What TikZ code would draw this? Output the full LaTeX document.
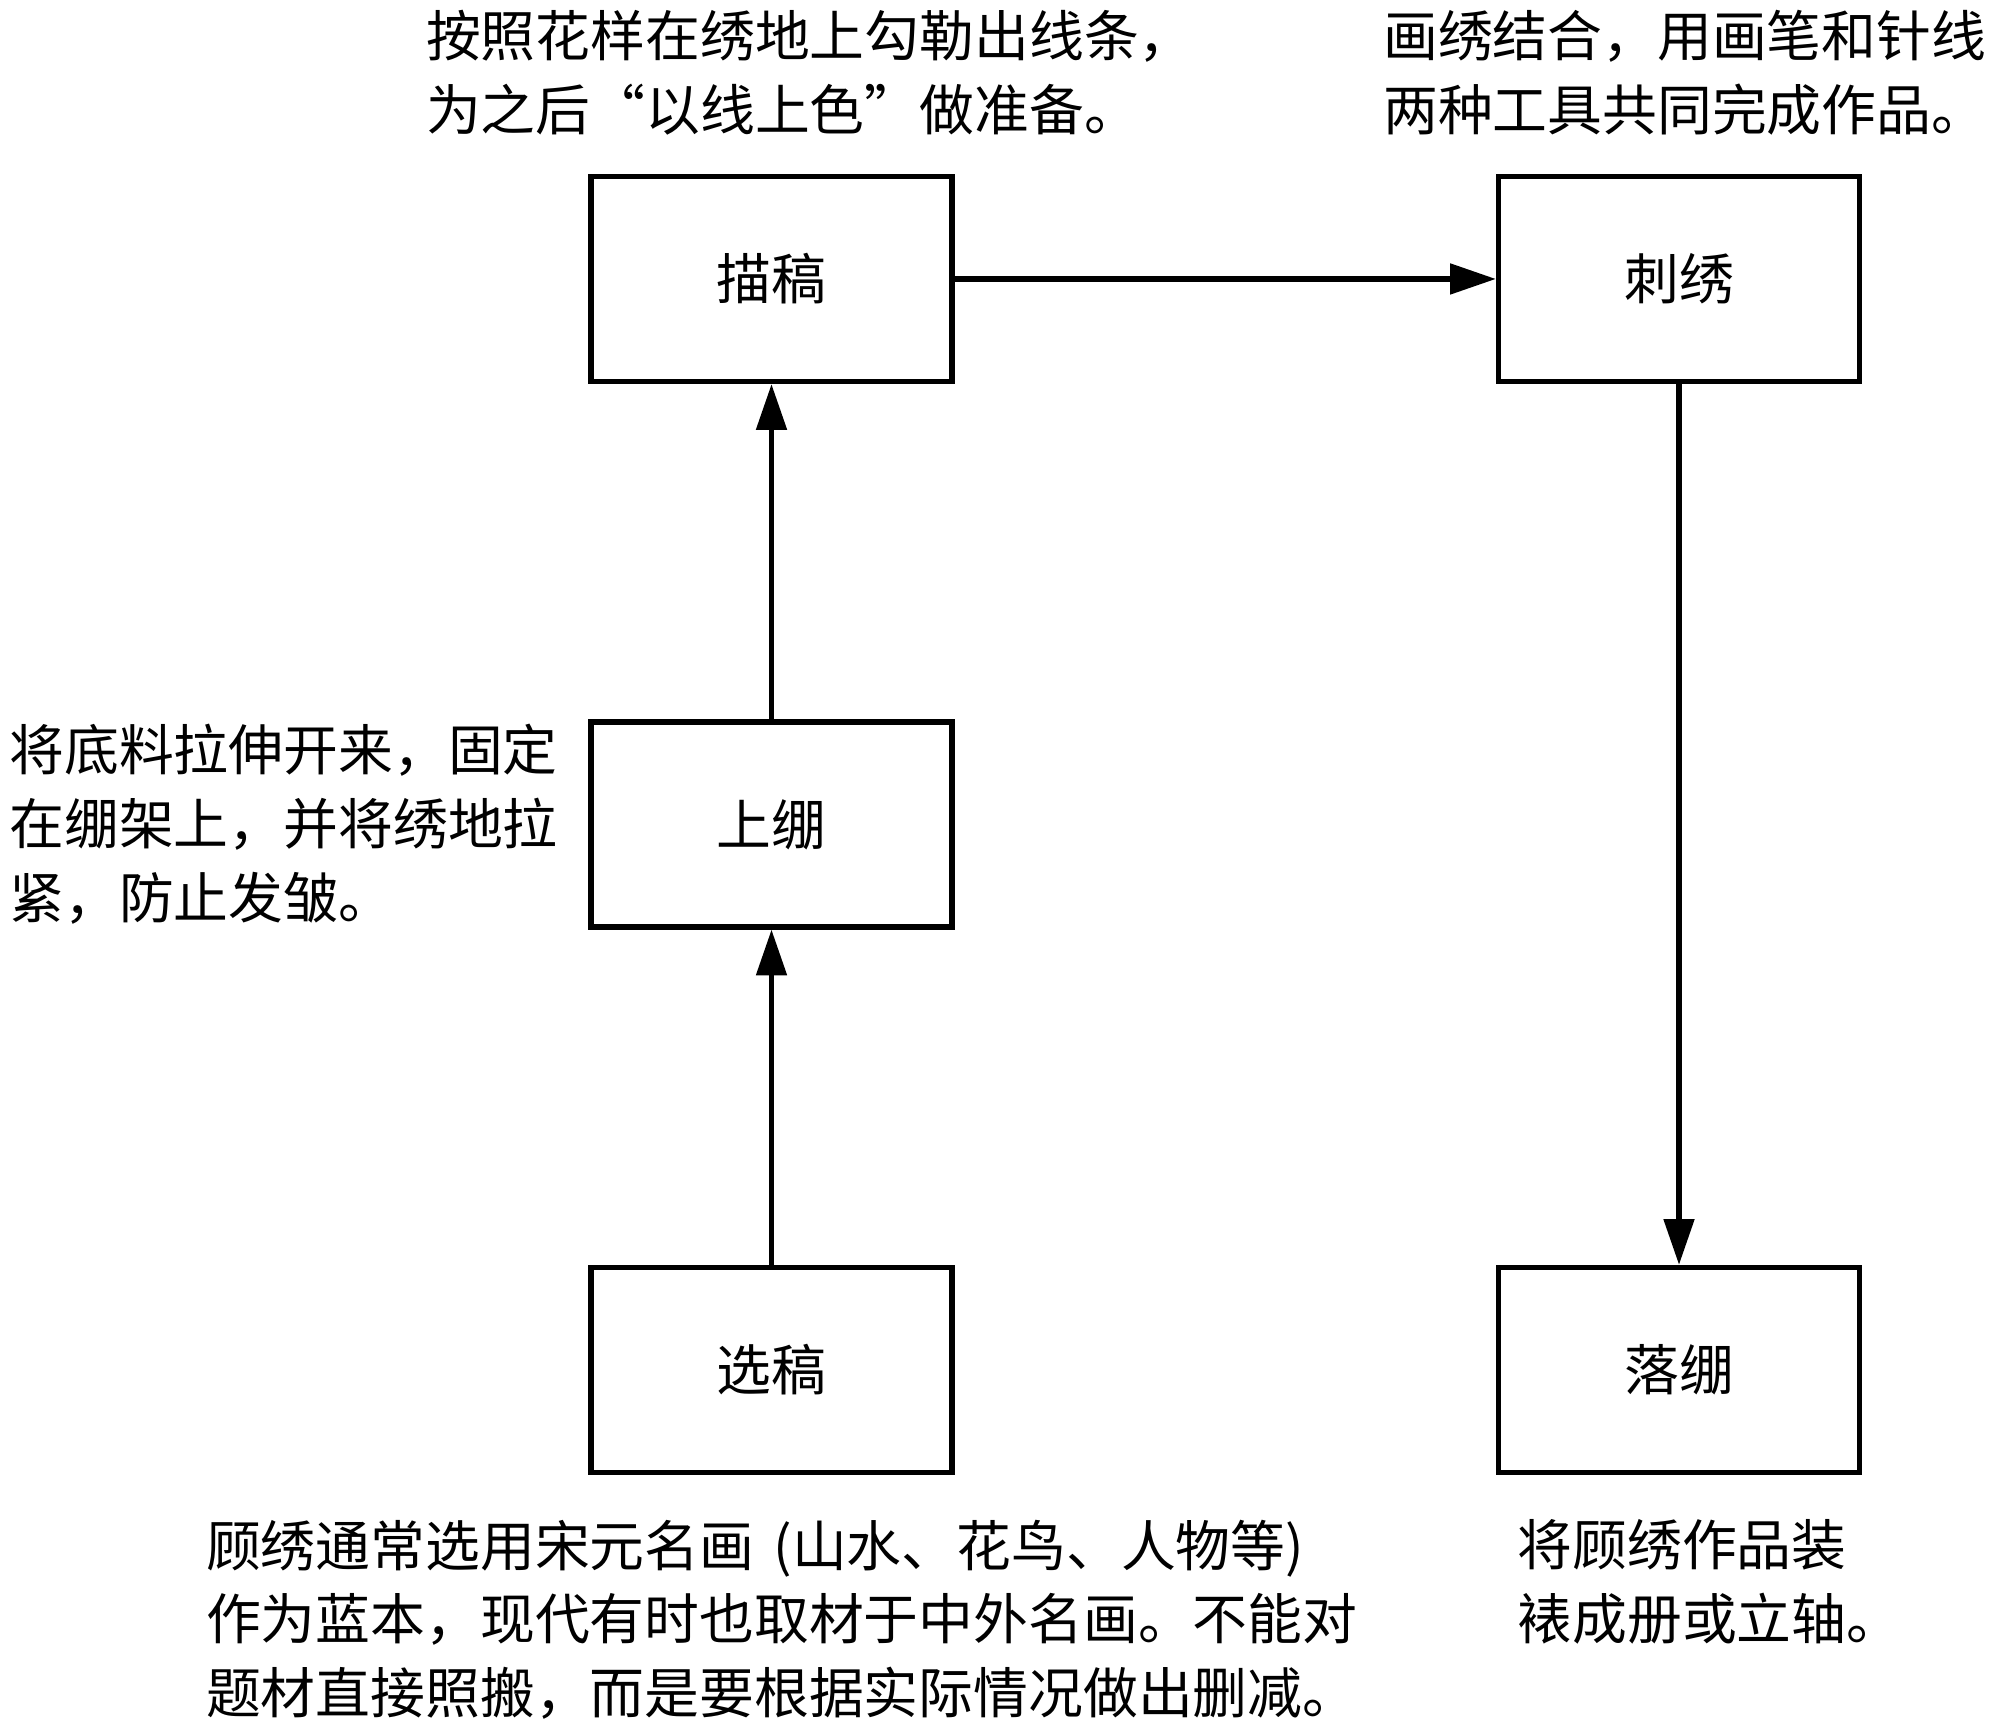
\documentclass[tikz,border=0pt]{standalone}
\usepackage{fontspec}
\newfontfamily\cjk{Noto Sans CJK SC}
\usetikzlibrary{arrows.meta}
\usetikzlibrary{positioning}
\tikzset{%
  >={Triangle[width=8.5pt,length=13pt]},
  % Specifications for style of nodes:
  stepbox/.style = {rectangle, draw=black, line width=1.5pt,
    minimum width=3.61cm,
    minimum height=2.05cm,
    text centered, font=\cjk\fontsize{15.6pt}{21pt}\selectfont},
  note/.style = {inner sep=0pt, align=left,
    font=\cjk\fontsize{15.6pt}{21pt}\selectfont},
  flow/.style = {->, line width=1.5pt},
}

\begin{document}
\begin{tikzpicture}[node distance=5.455cm]
  \useasboundingbox (0,0) rectangle (20,17.3);
  % Specification of nodes (position, etc.)
  \node(Select)[stepbox] at (7.715,3.60){选稿};
  \node(Mount)[stepbox,above of=Select]{上绷};
  \node(Draft)[stepbox,above of=Mount]{描稿};
  \node(Embroider)[stepbox,right of=Draft,xshift=3.62cm]{刺绣};
  \node(Unmount)[stepbox,below of=Embroider,yshift=-5.455cm]{落绷};
  % Notes next to the steps
  \node(DraftNote)[note,above right=0.38cm and -1.63cm of Draft.north west]{
    按照花样在绣地上勾勒出线条，\\
    为之后“以线上色”做准备。};
  \node(EmbroiderNote)[note,above right=0.38cm and -1.134cm of Embroider.north west]{
    画绣结合，用画笔和针线\\
    两种工具共同完成作品。};
  \node(MountNote)[note,left=0.3cm of Mount]{
    将底料拉伸开来，固定\\
    在绷架上，并将绣地拉\\
    紧，防止发皱。};
  \node(SelectNote)[note,below right=0.44cm and -3.83cm of Select.south west]{
    顾绣通常选用宋元名画\hspace{0.35em}(山水、花鸟、人物等)\\
    作为蓝本，现代有时也取材于中外名画。不能对\\
    题材直接照搬，而是要根据实际情况做出删减。};
  \node(UnmountNote)[note,below right=0.44cm and 0.21cm of Unmount.south west]{
    将顾绣作品装\\
    裱成册或立轴。};
  \draw[flow](Select) -- (Mount);
  \draw[flow](Mount) -- (Draft);
  \draw[flow](Draft) -- (Embroider);
  \draw[flow](Embroider) -- (Unmount);
\end{tikzpicture}
\end{document}
